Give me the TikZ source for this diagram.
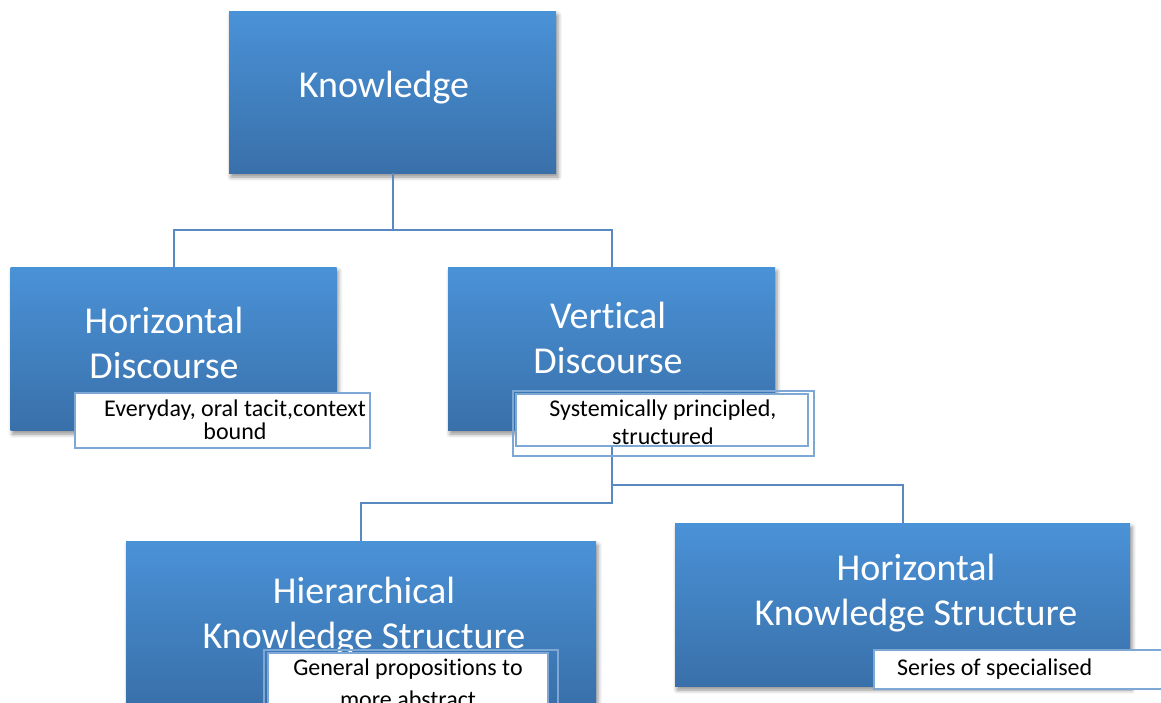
\documentclass[tikz,border=0pt]{standalone}
\usepackage{fontspec}
\setmainfont{Carlito}[Ligatures=NoCommon]
\usetikzlibrary{shadows.blur}

\definecolor{boxtop}{RGB}{74,146,215}
\definecolor{boxbot}{RGB}{57,112,170}
\definecolor{linkblue}{RGB}{88,137,192}
\definecolor{tagline}{RGB}{125,168,214}

\begin{document}
\begin{tikzpicture}[x=1pt,y=-1pt,
  topic/.style={draw=none, rectangle, inner sep=0pt, top color=boxtop, bottom color=boxbot,
    blur shadow={shadow xshift=2pt, shadow yshift=-4pt, shadow blur radius=4pt, shadow opacity=45}},
  topictext/.style={text=white, inner sep=0pt, anchor=base, align=center,
    font=\fontsize{38}{45}\selectfont},
  tag/.style={draw=tagline, line width=1.5pt, fill=white, rectangle, inner sep=0pt},
  tagframe/.style={draw=tagline, line width=1.5pt},
  tagtext/.style={text=black, inner sep=0pt, anchor=base, align=center},
  link/.style={draw=linkblue, line width=2pt}]

\useasboundingbox (0,0) rectangle (1161,702);
\clip (0,0) rectangle (1161,702);

% main topic boxes
\node[topic, minimum width=327pt, minimum height=162pt] (know) at (392.5,92) {};
\node[topic, minimum width=326pt, minimum height=163pt] (hd) at (173.5,348.5) {};
\node[topic, minimum width=327pt, minimum height=163pt] (vd) at (611.5,348.5) {};
\node[topic, minimum width=470pt, minimum height=163pt] (hks) at (361,622.5) {};
\node[topic, minimum width=455pt, minimum height=163pt] (hzks) at (902.5,604.5) {};

% titles (base anchor sits on the last line)
\node[topictext] (knowt) at (384,97) {Knowledge};
\node[topictext] (hdt) at (164,378) {Horizontal\\Discourse};
\node[topictext] (vdt) at (608,373) {Vertical\\Discourse};
\node[topictext] (hkst) at (364,648) {Hierarchical\\Knowledge Structure};
\node[topictext] (hzkst) at (916,625) {Horizontal\\Knowledge Structure};

% connectors
\draw[link] (know.south) -- ++(0,57) -| (hd.north);
\draw[link] (know.south) -- ++(0,57) -| (vd.north);
\draw[link] (vd.south) -- ++(0,73) -| (hks.north);
\draw[link] (vd.south) -- ++(0,55) -| (hzks.north);

% description tags
\node[tag, minimum width=295pt, minimum height=55pt] (t1) at (222.5,420.5) {};
\node[tagtext, font=\fontsize{24}{23}\selectfont] (t1t) at (235,439) {Everyday, oral tacit,context\\bound};

\draw[tagframe] (513,391) rectangle (814,456);
\node[tag, minimum width=292pt, minimum height=52pt] (t2) at (662,420) {};
\node[tagtext, font=\fontsize{24}{28}\selectfont] (t2t) at (663,444) {Systemically principled,\\structured};

\draw[tagframe] (264,650) rectangle (558,730);
\node[tag, minimum width=280pt, minimum height=70pt] (t3) at (408,688) {};
\node[tagtext, font=\fontsize{24}{32}\selectfont] (t3t) at (408,707) {General propositions to\\more abstract};

\node[tag, minimum width=301pt, minimum height=39pt] (t4) at (1024.5,669.5) {};
\node[tagtext, anchor=base west, font=\fontsize{24}{28}\selectfont] (t4t) at (897,675) {Series of specialised};

\end{tikzpicture}
\end{document}
